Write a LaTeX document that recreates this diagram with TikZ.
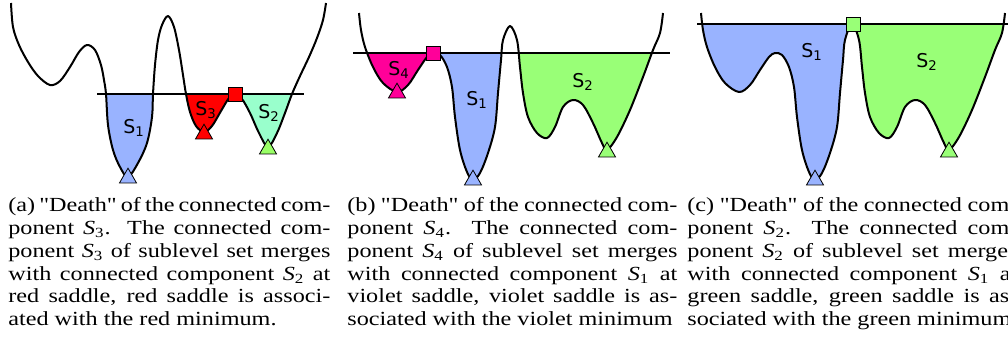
\documentclass[tikz,border=0pt]{standalone}
\usepackage{fontspec}
\setmainfont{Liberation Serif}
\newfontfamily\capfont[FakeStretch=1.21]{Liberation Serif}
\newfontfamily\labfont{DejaVu Sans}
\usetikzlibrary{shapes.geometric}
\definecolor{sblue}{HTML}{99B3FF}
\definecolor{sred}{HTML}{FF0000}
\definecolor{saqua}{HTML}{99FFCC}
\definecolor{sgreen}{HTML}{99FF77}
\definecolor{slgreen}{HTML}{99FF66}
\definecolor{smag}{HTML}{FF0099}
\tikzset{
  curveline/.style={line width=1pt, line join=round},
  levelline/.style={line width=0.7pt},
  saddlebox/.style={rectangle, draw=black, line width=0.4pt, minimum size=7pt, inner sep=0pt},
  minimtri/.style={regular polygon, regular polygon sides=3, draw=black, line width=0.4pt, minimum size=9.8pt, inner sep=0pt},
  labtxt/.style={anchor=base west, inner sep=0pt, font=\labfont\fontsize{9.5}{11}\selectfont},
  captxt/.style={anchor=base west, inner sep=0pt, font=\capfont\fontsize{10}{11.45}\selectfont}
}
\newcommand\capln[5]{\node[captxt] (#1) at (#2,#3) {\makebox[#4][s]{#5}};}
\newcommand\caplast[4]{\node[captxt] (#1) at (#2,#3) {#4};}
\newcommand\Sx[1]{{\itshape S}\textsubscript{#1}}
\def\pathA{plot[smooth,tension=0.55] coordinates {(11,3) (13,27) (19,45) (28,62) (38,76) (50,85) (60,81) (70,67) (79,52) (87,45) (95,50) (101,65) (104,80) (106,94) (108,125) (113,150) (120,167) (128,177) (138,163) (147,143) (152,117) (153,94) (155,65) (158,40) (162,25) (168,16) (174,27) (179,50) (183,75) (186,94) (190,112) (196,126) (204,132) (212,126) (221,111) (229,98) (235,94) (242,99) (250,113) (259,133) (268,147) (277,133) (285,113) (292,94) (300,76) (309,57) (317,38) (323,20) (326,3)}}
\def\pathB{plot[smooth,tension=0.55] coordinates {(359,13) (361,30) (365,47) (373,67) (383,83) (397,92) (408,85) (418,70) (427,57) (433,53) (440,55) (447,67) (452,87) (455,117) (460,150) (467,172) (473,180) (480,173) (488,153) (495,127) (498,93) (501,60) (503,40) (510,26) (517,40) (520,67) (523,93) (528,117) (537,133) (547,138) (555,127) (563,107) (573,100) (583,105) (593,123) (602,143) (607,150) (617,137) (630,110) (643,77) (653,50) (660,33) (663,13)}}
\def\pathC{plot[smooth,tension=0.55] coordinates {(701,13) (703,30) (707,47) (715,67) (725,83) (739,92) (750,85) (760,70) (769,57) (775,53) (782,55) (789,67) (794,87) (797,117) (802,150) (809,172) (815,180) (822,173) (830,153) (837,127) (840,93) (843,60) (845,40) (852,24) (859,40) (862,67) (865,93) (870,117) (879,133) (889,138) (897,127) (905,107) (915,100) (925,105) (935,123) (944,143) (949,150) (959,137) (972,110) (985,77) (995,50) (1002,33) (1005,13)}}
\begin{document}
\begin{tikzpicture}[x=0.5pt,y=-0.5pt]
\clip (0,0) rectangle (1008,354);
% ---------- panel (a) ----------
\begin{scope}\clip (97,94) rectangle (170,200); \fill[sblue] \pathA -- (326,-20) -- (11,-20) -- cycle;\end{scope}
\begin{scope}\clip (170,94) rectangle (235,200); \fill[sred] \pathA -- (326,-20) -- (11,-20) -- cycle;\end{scope}
\begin{scope}\clip (235,94) rectangle (304,200); \fill[saqua] \pathA -- (326,-20) -- (11,-20) -- cycle;\end{scope}
\draw[levelline] (97,94) coordinate (la1) -- (304,94) coordinate (la2);
\draw[curveline] \pathA;
\node[saddlebox, fill=sred] (sadA) at (235,94) {};
\node[minimtri, fill=sblue] (minA1) at (128,178) {};
\node[minimtri, fill=sred] (minA3) at (204,134) {};
\node[minimtri, fill=slgreen] (minA2) at (268,149) {};
\node[labtxt] (labA1) at (123,133) {S\textsubscript{1}};
\node[labtxt] (labA3) at (195,115) {S\textsubscript{3}};
\node[labtxt] (labA2) at (258,118) {S\textsubscript{2}};
% ---------- panel (b) ----------
\begin{scope}\clip (355,53) rectangle (433,200); \fill[smag] \pathB -- (663,-20) -- (359,-20) -- cycle;\end{scope}
\begin{scope}\clip (433,53) rectangle (510,200); \fill[sblue] \pathB -- (663,-20) -- (359,-20) -- cycle;\end{scope}
\begin{scope}\clip (510,53) rectangle (670,200); \fill[sgreen] \pathB -- (663,-20) -- (359,-20) -- cycle;\end{scope}
\draw[levelline] (353,53) coordinate (lb1) -- (670,53) coordinate (lb2);
\draw[curveline] \pathB;
\node[saddlebox, fill=smag] (sadB) at (433,53) {};
\node[minimtri, fill=smag] (minB4) at (397,93) {};
\node[minimtri, fill=sblue] (minB1) at (473,180) {};
\node[minimtri, fill=sgreen] (minB2) at (607,152) {};
\node[labtxt] (labB4) at (388,75) {S\textsubscript{4}};
\node[labtxt] (labB1) at (466,105) {S\textsubscript{1}};
\node[labtxt] (labB2) at (572,87) {S\textsubscript{2}};
% ---------- panel (c) ----------
\begin{scope}\clip (690,24) rectangle (852,200); \fill[sblue] \pathC -- (1005,-20) -- (701,-20) -- cycle;\end{scope}
\begin{scope}\clip (852,24) rectangle (1008,200); \fill[sgreen] \pathC -- (1005,-20) -- (701,-20) -- cycle;\end{scope}
\draw[levelline] (697,24) coordinate (lc1) -- (1010,24) coordinate (lc2);
\draw[curveline] \pathC;
\node[saddlebox, fill=sgreen] (sadC) at (853,24) {};
\node[minimtri, fill=sblue] (minC1) at (815,180) {};
\node[minimtri, fill=sgreen] (minC2) at (949,152) {};
\node[labtxt] (labC1) at (801,57) {S\textsubscript{1}};
\node[labtxt] (labC2) at (916,67) {S\textsubscript{2}};
% ---------- captions ----------
\capln{ca1}{8}{211}{161pt}{(a) "Death" of the connected com-}
\capln{ca2}{8}{234}{161pt}{ponent \Sx{3}.  The connected com-}
\capln{ca3}{8}{257}{161pt}{ponent \Sx{3} of sublevel set merges}
\capln{ca4}{8}{280}{161pt}{with connected component \Sx{2} at}
\capln{ca5}{8}{302}{161pt}{red saddle, red saddle is associ-}
\caplast{ca6}{8}{325}{ated with the red minimum.}
\capln{cb1}{347}{211}{165pt}{(b) "Death" of the connected com-}
\capln{cb2}{347}{234}{165pt}{ponent \Sx{4}.  The connected com-}
\capln{cb3}{347}{257}{165pt}{ponent \Sx{4} of sublevel set merges}
\capln{cb4}{347}{280}{165pt}{with connected component \Sx{1} at}
\capln{cb5}{347}{302}{165pt}{violet saddle, violet saddle is as-}
\caplast{cb6}{347}{325}{sociated with the violet minimum}
\capln{cc1}{687}{211}{165pt}{(c) "Death" of the connected com-}
\capln{cc2}{687}{234}{165pt}{ponent \Sx{2}.  The connected com-}
\capln{cc3}{687}{257}{165pt}{ponent \Sx{2} of sublevel set merges}
\capln{cc4}{687}{280}{165pt}{with connected component \Sx{1} at}
\capln{cc5}{687}{302}{165pt}{green saddle, green saddle is as-}
\caplast{cc6}{687}{325}{sociated with the green minimum.}
\end{tikzpicture}
\end{document}
